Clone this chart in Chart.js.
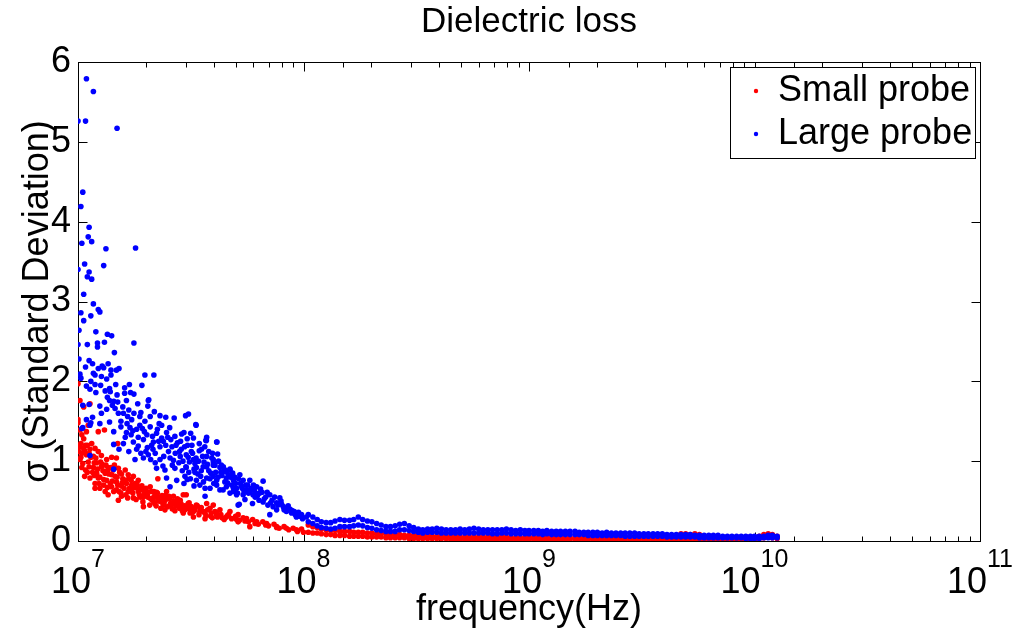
<!DOCTYPE html>
<html>
<head>
<meta charset="utf-8">
<title>Dielectric loss</title>
<script src="https://cdn.jsdelivr.net/npm/chart.js@4.4.0/dist/chart.umd.min.js"></script>
<style>
  html, body { margin: 0; padding: 0; background: #fff; }
  canvas { display: block; }
</style>
</head>
<body>
<canvas id="loss" width="1020" height="639"></canvas>
<script>
const chartTitle = 'Dielectric loss';
const xTitle = 'frequency(Hz)';
const yTitle = 'σ (Standard Deviation)';
const seriesNames = ['Small probe', 'Large probe'];
const xRange = [1e7, 1e11];
const yTicks = [0, 1, 2, 3, 4, 5, 6];

// scattered points below ~100 MHz, [frequency Hz, sigma]
const smallPts = [
  [1.00e7,1.97],[1.02e7,1.76],[1.13e7,1.72],[1.06e7,1.68],[1.00e7,1.52],[1.00e7,1.48],[1.11e7,1.45],
  [1.02e7,1.39],[1.09e7,1.37],[1.04e7,1.33],[1.23e7,1.37],[1.31e7,1.39],[1.50e7,1.22],[1.00e7,1.20],
  [1.02e7,1.18],[1.06e7,1.16],[1.13e7,1.15],[1.19e7,1.16],[1.23e7,1.12],[1.04e7,1.10],[1.09e7,1.08],
  [1.17e7,1.06],[1.27e7,1.07],[1.34e7,1.02],[1.41e7,1.05],[1.48e7,1.04],[1.11e7,0.99],[1.21e7,0.98],
  [1.27e7,0.93],[1.36e7,0.92],[1.17e7,0.92],[1.43e7,0.89],[1.51e7,0.91],[1.62e7,0.89],[1.32e7,0.85],
  [1.41e7,0.83],[1.56e7,0.84],[1.67e7,0.83],[1.76e7,0.81],[1.07e7,0.81],[1.13e7,0.79],[1.23e7,0.79],
  [1.34e7,0.76],[1.48e7,0.74],[1.62e7,0.76],[1.85e7,0.76],[1.19e7,0.72],[1.30e7,0.70],[1.41e7,0.68],
  [1.56e7,0.69],[1.73e7,0.70],[1.92e7,0.69],[2.09e7,0.68],[1.19e7,0.66],[1.25e7,0.66],[1.48e7,0.64],
  [1.67e7,0.62],[1.85e7,0.62],[2.02e7,0.62],[2.23e7,0.61],[2.47e7,0.62],[1.36e7,0.58],[1.56e7,0.56],
  [1.76e7,0.54],[1.95e7,0.55],[2.16e7,0.54],[2.39e7,0.54],[2.65e7,0.56],[2.93e7,0.58],[1.51e7,0.51],
  [1.95e7,0.43],[2.19e7,0.47],[2.39e7,0.45],[2.60e7,0.45],[2.78e7,0.47],[3.08e7,0.47],[2.43e7,0.39],
  [2.69e7,0.38],[2.98e7,0.39],[3.14e7,0.35],[2.26e7,0.51],[3.02e7,0.58],[2.84e7,0.51],[3.35e7,0.45],
  [3.72e7,0.47],[3.98e7,0.45],[3.14e7,0.39],[3.47e7,0.37],[3.85e7,0.41],[4.26e7,0.39],[4.72e7,0.37],
  [2.93e7,0.35],[3.25e7,0.30],[3.66e7,0.28],[4.12e7,0.33],[4.55e7,0.30],[5.13e7,0.33],[5.59e7,0.28],
  [5.13e7,0.24],[6.20e7,0.24],[6.86e7,0.22],[7.60e7,0.18],[8.40e7,0.16],[9.30e7,0.14],[5.78e7,0.18],
  [2.26e7,0.78],[1.01e7,1.12],[1.03e7,1.05],[1.03e7,1.22],[1.05e7,0.97],[1.07e7,1.13],[1.08e7,0.89],
  [1.10e7,1.20],[1.12e7,0.93],[1.14e7,1.05],[1.16e7,0.86],[1.18e7,0.98],[1.20e7,1.04],[1.22e7,0.90],
  [1.24e7,0.72],[1.26e7,0.99],[1.29e7,0.88],[1.30e7,0.77],[1.33e7,0.95],[1.35e7,0.67],[1.37e7,0.84],
  [1.40e7,0.92],[1.42e7,0.75],[1.44e7,0.62],[1.46e7,0.81],[1.50e7,0.70],[1.53e7,0.86],[1.55e7,0.60],
  [1.58e7,0.78],[1.60e7,0.66],[1.64e7,0.72],[1.66e7,0.54],[1.69e7,0.66],[1.72e7,0.76],[1.75e7,0.60],
  [1.78e7,0.67],[1.81e7,0.52],[1.83e7,0.70],[1.87e7,0.58],[1.90e7,0.64],[1.94e7,0.49],[1.97e7,0.59],
  [2.00e7,0.66],[2.04e7,0.55],[2.08e7,0.45],[2.11e7,0.62],[2.14e7,0.51],[2.18e7,0.56],[2.22e7,0.44],
  [2.25e7,0.60],[2.29e7,0.50],[2.33e7,0.41],[2.36e7,0.57],[2.41e7,0.48],[2.45e7,0.52],[2.50e7,0.43],
  [2.53e7,0.56],[2.57e7,0.47],[2.62e7,0.40],[2.66e7,0.50],[2.72e7,0.44],[2.76e7,0.53],[2.82e7,0.41],
  [2.86e7,0.47],[2.90e7,0.38],[2.96e7,0.44],[3.04e7,0.41],[3.11e7,0.48],[3.18e7,0.43],[3.22e7,0.36],
  [3.30e7,0.41],[3.38e7,0.44],[3.44e7,0.33],[3.52e7,0.42],[3.60e7,0.37],[3.70e7,0.32],[3.76e7,0.39],
  [3.90e7,0.35],[3.94e7,0.29],[4.05e7,0.37],[4.15e7,0.30],[4.30e7,0.33],[4.45e7,0.27],[4.60e7,0.32],
  [4.80e7,0.28],[5.00e7,0.31],[5.20e7,0.26],[5.40e7,0.29],[5.70e7,0.24],[5.95e7,0.27],[6.30e7,0.21],
  [6.60e7,0.24],[7.00e7,0.19],[7.40e7,0.21],[7.80e7,0.16],[8.20e7,0.18],[8.60e7,0.14],[9.00e7,0.16],
  [9.40e7,0.12],[9.80e7,0.15],[1.00e8,0.11],[1.02e7,1.02],[1.04e7,0.92],[1.06e7,1.28],[1.08e7,1.20],
  [1.10e7,0.86],[1.12e7,1.10],[1.15e7,1.22],[1.18e7,0.82],[1.21e7,0.85],[1.25e7,0.80],[1.28e7,0.96],
  [1.32e7,0.62],[1.35e7,0.88],[1.39e7,0.72],[1.45e7,0.95],[1.49e7,0.80],[1.52e7,0.62],[1.57e7,0.73],
  [1.63e7,0.58],[1.68e7,0.78],[1.73e7,0.63],[1.79e7,0.72],[1.84e7,0.66],[1.89e7,0.55],[1.96e7,0.64],
  [2.03e7,0.58],[2.10e7,0.53],[2.17e7,0.62],[2.28e7,0.55],[2.35e7,0.49],[2.44e7,0.57],[2.55e7,0.53],
  [2.68e7,0.47],[2.80e7,0.50],[2.92e7,0.42],[3.05e7,0.44],[3.28e7,0.38],[3.48e7,0.40],[3.65e7,0.35],
  [3.88e7,0.31],[4.10e7,0.36],[4.35e7,0.29],[4.65e7,0.33],[5.05e7,0.27],[5.50e7,0.25],[6.10e7,0.22],
  [6.80e7,0.20],[7.60e7,0.17]
];

const largePts = [
  [1.09e7,5.79],[1.17e7,5.63],[1.00e7,5.26],[1.08e7,5.26],[1.49e7,5.17],[1.05e7,4.37],[1.03e7,4.19],
  [1.12e7,3.93],[1.11e7,3.81],[1.15e7,3.75],[1.04e7,3.73],[1.33e7,3.66],[1.80e7,3.67],[1.07e7,3.47],
  [1.30e7,3.45],[1.00e7,3.40],[1.12e7,3.37],[1.10e7,3.31],[1.15e7,3.28],[1.06e7,3.09],[1.17e7,2.97],
  [1.03e7,2.86],[1.23e7,2.90],[1.25e7,2.87],[1.14e7,2.82],[1.06e7,2.76],[1.01e7,2.64],[1.20e7,2.62],
  [1.35e7,2.59],[1.41e7,2.57],[1.00e7,2.46],[1.10e7,2.46],[1.22e7,2.48],[1.22e7,2.43],[1.31e7,2.49],
  [1.77e7,2.48],[1.45e7,2.36],[1.01e7,2.28],[1.12e7,2.26],[1.16e7,2.22],[1.36e7,2.22],[1.23e7,2.16],
  [1.28e7,2.19],[1.30e7,2.17],[1.40e7,2.14],[1.48e7,2.14],[1.52e7,2.16],[1.02e7,2.09],[1.17e7,2.10],
  [1.19e7,2.08],[1.40e7,2.08],[1.98e7,2.08],[2.17e7,2.08],[1.03e7,2.04],[1.27e7,2.06],[1.34e7,2.03],
  [1.09e7,1.94],[1.13e7,1.90],[1.19e7,1.96],[1.47e7,1.96],[1.69e7,1.96],[1.92e7,1.95],[1.61e7,1.92],
  [1.38e7,1.91],[1.39e7,1.87],[1.61e7,1.85],[1.71e7,1.86],[1.77e7,1.84],[1.49e7,1.83],[1.35e7,1.80],
  [2.06e7,1.77],[1.05e7,1.70],[1.12e7,1.71],[1.25e7,1.69],[1.38e7,1.76],[1.44e7,1.75],[1.84e7,1.72],
  [2.05e7,1.76],[2.04e7,1.69],[1.34e7,1.65],[1.27e7,1.60],[1.46e7,1.66],[1.51e7,1.60],[1.59e7,1.60],
  [1.68e7,1.64],[1.77e7,1.60],[1.90e7,1.61],[1.66e7,1.56],[1.88e7,1.56],[2.09e7,1.56],[2.31e7,1.57],
  [2.67e7,1.54],[3.00e7,1.57],[3.09e7,1.59],[3.33e7,1.46],[3.71e7,1.26],[4.12e7,1.24],[1.38e7,1.49],
  [1.14e7,1.48],[1.05e7,1.42],[1.25e7,1.47],[1.55e7,1.43],[1.70e7,1.42],[1.88e7,1.45],[2.09e7,1.43],
  [2.29e7,1.47],[1.44e7,1.37],[1.64e7,1.36],[1.97e7,1.37],[2.23e7,1.35],[2.47e7,1.36],[2.69e7,1.31],
  [2.95e7,1.36],[1.44e7,1.21],[1.59e7,1.22],[1.76e7,1.24],[1.95e7,1.27],[2.16e7,1.24],[2.39e7,1.25],
  [3.25e7,1.29],[1.52e7,1.15],[1.68e7,1.12],[1.82e7,1.15],[2.03e7,1.17],[2.31e7,1.18],[2.61e7,1.18],
  [2.87e7,1.15],[3.18e7,1.12],[3.53e7,1.15],[1.79e7,1.02],[1.95e7,1.04],[2.10e7,1.02],[2.31e7,1.02],
  [2.56e7,1.04],[2.84e7,1.06],[3.02e7,1.08],[3.34e7,1.04],[3.72e7,1.06],[3.98e7,1.02],[1.44e7,0.90],
  [2.23e7,0.91],[2.43e7,0.89],[2.69e7,0.91],[3.01e7,0.93],[3.27e7,0.90],[3.59e7,0.93],[3.98e7,0.95],
  [4.41e7,0.93],[4.72e7,0.89],[2.47e7,0.79],[2.74e7,0.76],[3.05e7,0.77],[3.35e7,0.76],[3.72e7,0.79],
  [4.12e7,0.76],[4.55e7,0.79],[2.56e7,0.68],[2.95e7,0.72],[3.47e7,0.70],[3.85e7,0.66],[4.26e7,0.64],
  [4.89e7,0.66],[5.05e7,0.58],[3.66e7,0.56],[5.13e7,0.45],[3.34e7,1.45],[2.88e7,1.34],[3.16e7,1.35],
  [3.72e7,1.30],[3.69e7,1.26],[4.13e7,1.24],[3.06e7,1.20],[3.45e7,1.13],[4.16e7,1.09],[3.25e7,1.02],
  [3.57e7,1.06],[3.92e7,1.04],[3.98e7,0.99],[3.02e7,0.92],[3.35e7,0.92],[3.72e7,0.93],[4.26e7,0.92],
  [4.72e7,0.90],[4.41e7,0.87],[2.98e7,0.81],[3.50e7,0.81],[3.98e7,0.81],[5.22e7,0.83],[4.89e7,0.76],
  [5.40e7,0.76],[5.78e7,0.76],[6.62e7,0.75],[3.27e7,0.69],[3.66e7,0.66],[4.12e7,0.70],[4.55e7,0.68],
  [5.05e7,0.66],[5.59e7,0.64],[6.20e7,0.68],[4.72e7,0.60],[5.40e7,0.58],[5.97e7,0.58],[6.40e7,0.60],
  [7.09e7,0.58],[7.85e7,0.54],[5.19e7,0.46],[5.94e7,0.47],[6.62e7,0.49],[6.95e7,0.45],[7.33e7,0.43],
  [7.09e7,0.33],[7.60e7,0.39],[8.13e7,0.43],[8.40e7,0.37],[8.85e7,0.35],[9.30e7,0.30],[9.80e7,0.33],
  [1.03e8,0.30],[1.04e7,1.41],[1.13e7,1.45],[1.13e7,1.07],[1.16e7,1.55],[1.09e7,1.52],[1.62e7,1.30],
  [1.72e7,1.33],[1.85e7,1.19],[2.00e7,1.12],[2.14e7,1.31],[2.20e7,1.10],[2.35e7,1.29],[2.52e7,1.12],
  [2.58e7,1.27],[2.76e7,1.23],[2.80e7,0.98],[3.12e7,0.99],[3.40e7,0.84],[3.80e7,0.88],[4.00e7,0.72],
  [4.35e7,0.82],[4.60e7,0.73],[4.95e7,0.80],[5.30e7,0.69],[5.65e7,0.70],[6.05e7,0.64],[6.55e7,0.61],
  [6.80e7,0.55],[7.25e7,0.51],[7.60e7,0.48],[8.00e7,0.46],[8.30e7,0.41],[8.70e7,0.40],[9.10e7,0.37],
  [9.50e7,0.36],[2.20e7,0.98],[2.40e7,1.06],[1.90e7,1.10],[2.65e7,1.01],[3.10e7,0.86],[5.50e7,0.52],
  [6.10e7,0.55],[6.35e7,0.51],[5.80e7,0.62],[4.80e7,0.70],[1.55e7,1.50],[1.65e7,1.47],[1.75e7,1.38],
  [1.85e7,1.30],[1.93e7,1.41],[2.02e7,1.33],[2.12e7,1.20],[2.25e7,1.40],[2.45e7,1.20],[2.55e7,1.42],
  [2.70e7,1.10],[2.85e7,1.25],[2.92e7,1.00],[3.05e7,1.28],[3.20e7,1.20],[3.30e7,0.97],[3.45e7,1.22],
  [3.62e7,0.99],[3.80e7,1.12],[3.88e7,0.85],[4.05e7,0.95],[4.20e7,1.00],[4.30e7,0.86],[4.50e7,0.89],
  [4.65e7,0.82],[4.85e7,0.85],[5.00e7,0.72],[5.15e7,0.78],[5.35e7,0.66],[5.55e7,0.70],[5.70e7,0.60],
  [6.00e7,0.70],[6.25e7,0.57],[6.45e7,0.65],[6.70e7,0.53],[6.90e7,0.61],[7.15e7,0.48],[7.45e7,0.55],
  [7.70e7,0.45],[7.95e7,0.50],[8.20e7,0.39],[8.55e7,0.44],[8.90e7,0.38],[9.20e7,0.33],[9.60e7,0.31],
  [9.90e7,0.28],[3.15e7,0.78],[3.60e7,0.74],[4.40e7,0.64],[4.90e7,0.62],[2.05e7,1.08],[2.15e7,1.15],
  [2.28e7,1.25],[2.38e7,0.94],[2.50e7,1.30],[2.62e7,0.95],[2.72e7,1.20],[2.82e7,1.12],[2.90e7,0.88],
  [2.97e7,1.18],[3.08e7,1.05],[3.22e7,1.10],[3.30e7,0.86],[3.42e7,1.00],[3.52e7,0.88],[3.65e7,1.18],
  [3.75e7,0.96],[3.85e7,0.78],[3.95e7,1.10],[4.08e7,0.86],[4.18e7,0.80],[4.32e7,0.95],[4.48e7,0.74],
  [4.58e7,0.86],[4.75e7,0.80],[5.10e7,0.60],[5.25e7,0.72],[5.45e7,0.62],[5.85e7,0.66],[6.15e7,0.60],
  [1.08e7,2.18],[1.14e7,2.00],[1.20e7,1.86],[1.26e7,1.95],[1.32e7,1.88],[1.42e7,1.70],[1.50e7,1.74],
  [1.58e7,1.68],[1.64e7,1.76],[1.73e7,1.52],[1.82e7,1.40],[1.98e7,1.50],[2.18e7,1.62],[2.35e7,1.45],
  [2.45e7,1.55]
];

// dense band above 100 MHz: sweep frequencies and upper / lower edge of each cloud
const bandFreq = [
  1.05e8,1.10e8,1.15e8,1.20e8,1.26e8,1.32e8,1.38e8,1.45e8,1.52e8,1.60e8,1.67e8,1.75e8,
  1.83e8,1.92e8,2.01e8,2.11e8,2.21e8,2.32e8,2.43e8,2.55e8,2.67e8,2.80e8,2.94e8,3.08e8,
  3.23e8,3.38e8,3.55e8,3.72e8,3.90e8,4.09e8,4.29e8,4.50e8,4.72e8,4.95e8,5.19e8,5.44e8,
  5.70e8,5.98e8,6.27e8,6.57e8,6.89e8,7.23e8,7.58e8,7.94e8,8.33e8,8.73e8,9.15e8,9.59e8,
  1.00e9,1.05e9,1.10e9,1.15e9,1.20e9,1.26e9,1.32e9,1.38e9,1.45e9,1.52e9,1.60e9,1.67e9,
  1.75e9,1.83e9,1.92e9,2.01e9,2.11e9,2.21e9,2.32e9,2.43e9,2.55e9,2.67e9,2.80e9,2.94e9,
  3.08e9,3.23e9,3.38e9,3.55e9,3.72e9,3.90e9,4.09e9,4.29e9,4.50e9,4.72e9,4.95e9,5.19e9,
  5.44e9,5.70e9,5.98e9,6.27e9,6.57e9,6.89e9,7.23e9,7.58e9,7.94e9,8.33e9,8.73e9,9.15e9,
  9.59e9,1.00e10,1.05e10,1.10e10,1.15e10,1.20e10,1.26e10
];
const largeBandHi = [
  0.33,0.30,0.27,0.24,0.23,0.23,0.25,0.27,0.26,0.26,0.27,0.30,
  0.27,0.25,0.24,0.22,0.20,0.18,0.18,0.19,0.21,0.22,0.19,0.17,
  0.15,0.14,0.15,0.15,0.16,0.15,0.14,0.14,0.14,0.15,0.14,0.15,
  0.16,0.15,0.14,0.14,0.14,0.14,0.14,0.15,0.14,0.13,0.14,0.13,
  0.13,0.13,0.13,0.12,0.13,0.12,0.12,0.12,0.12,0.12,0.12,0.11,
  0.11,0.11,0.11,0.11,0.10,0.11,0.10,0.10,0.10,0.10,0.10,0.10,
  0.09,0.09,0.09,0.09,0.09,0.09,0.08,0.08,0.08,0.08,0.08,0.08,
  0.07,0.07,0.07,0.07,0.07,0.07,0.06,0.06,0.06,0.06,0.06,0.06,
  0.06,0.06,0.06,0.06,0.07,0.07,0.06
];
const largeBandLo = [
  0.24,0.22,0.19,0.17,0.16,0.15,0.16,0.18,0.18,0.18,0.19,0.20,
  0.19,0.17,0.16,0.14,0.13,0.12,0.12,0.12,0.14,0.14,0.13,0.12,
  0.11,0.10,0.11,0.11,0.11,0.10,0.10,0.10,0.10,0.10,0.10,0.10,
  0.10,0.10,0.10,0.10,0.09,0.09,0.10,0.10,0.09,0.09,0.09,0.09,
  0.09,0.09,0.09,0.08,0.09,0.08,0.08,0.08,0.08,0.08,0.08,0.08,
  0.08,0.07,0.07,0.07,0.07,0.07,0.07,0.07,0.07,0.06,0.06,0.06,
  0.06,0.06,0.06,0.06,0.06,0.06,0.05,0.05,0.05,0.05,0.05,0.05,
  0.05,0.04,0.04,0.04,0.04,0.04,0.04,0.04,0.04,0.04,0.04,0.03,
  0.03,0.03,0.03,0.04,0.04,0.04,0.04
];
const smallBandHi = [
  0.20,0.18,0.17,0.15,0.14,0.13,0.13,0.12,0.12,0.12,0.11,0.11,
  0.11,0.10,0.10,0.09,0.09,0.09,0.08,0.08,0.08,0.07,0.07,0.07,
  0.07,0.06,0.07,0.06,0.06,0.06,0.06,0.06,0.06,0.05,0.05,0.05,
  0.05,0.05,0.05,0.05,0.05,0.05,0.05,0.05,0.04,0.04,0.04,0.04,
  0.04,0.05,0.04,0.04,0.05,0.04,0.04,0.04,0.04,0.04,0.04,0.04,
  0.04,0.04,0.04,0.04,0.04,0.04,0.04,0.04,0.04,0.04,0.04,0.04,
  0.04,0.04,0.04,0.04,0.04,0.04,0.04,0.05,0.06,0.09,0.09,0.08,
  0.09,0.08,0.05,0.04,0.04,0.04,0.04,0.04,0.04,0.04,0.04,0.05,
  0.05,0.05,0.06,0.08,0.09,0.08,0.06
];
const smallBandLo = [
  0.11,0.10,0.10,0.09,0.08,0.08,0.07,0.07,0.07,0.06,0.06,0.06,
  0.06,0.05,0.05,0.05,0.05,0.04,0.04,0.04,0.04,0.04,0.03,0.03,
  0.03,0.03,0.03,0.03,0.03,0.03,0.03,0.02,0.02,0.02,0.02,0.02,
  0.02,0.02,0.02,0.02,0.02,0.02,0.02,0.02,0.02,0.02,0.02,0.02,
  0.02,0.02,0.02,0.02,0.02,0.02,0.02,0.02,0.02,0.02,0.02,0.02,
  0.02,0.02,0.02,0.02,0.02,0.02,0.02,0.02,0.02,0.02,0.02,0.02,
  0.02,0.02,0.02,0.02,0.02,0.02,0.02,0.02,0.02,0.02,0.02,0.02,
  0.02,0.02,0.02,0.02,0.02,0.02,0.02,0.02,0.02,0.02,0.02,0.02,
  0.02,0.02,0.03,0.04,0.05,0.04,0.03
];

const FONT = '"Liberation Sans", Arial, Helvetica, sans-serif';
Chart.defaults.font.family = FONT;
Chart.defaults.color = '#000';

function buildSeries(pts, hi, lo) {
  const out = pts.map(([f, s]) => ({ x: f, y: s }));
  bandFreq.forEach((f, i) => {
    out.push({ x: f, y: hi[i] });
    out.push({ x: f, y: lo[i] });
  });
  return out;
}

const isDecade = v => Math.abs(Math.log10(v) - Math.round(Math.log10(v))) < 1e-9;

// MATLAB style box with inward ticks, superscript decade labels and an inset legend
const matlabAxes = {
  id: 'matlabAxes',
  beforeDatasetsDraw(chart) {
    const { ctx, chartArea: a, scales: { x, y } } = chart;
    ctx.save();
    ctx.strokeStyle = '#000';
    ctx.lineWidth = 1;
    const L = Math.round(a.left) + 0.5, R = Math.round(a.right) + 0.5;
    const T = Math.round(a.top) + 0.5, B = Math.round(a.bottom) + 0.5;
    ctx.strokeRect(L, T, R - L, B - T);
    ctx.beginPath();
    x.ticks.forEach(t => {
      const px = Math.round(x.getPixelForValue(t.value)) + 0.5;
      const len = isDecade(t.value) ? 9 : 5;
      ctx.moveTo(px, B); ctx.lineTo(px, B - len);
      ctx.moveTo(px, T); ctx.lineTo(px, T + len);
    });
    y.ticks.forEach(t => {
      const py = Math.round(y.getPixelForValue(t.value)) + 0.5;
      ctx.moveTo(L, py); ctx.lineTo(L + 9, py);
      ctx.moveTo(R, py); ctx.lineTo(R - 9, py);
    });
    ctx.stroke();
    ctx.restore();
  },
  afterDraw(chart) {
    const { ctx, chartArea: a, scales: { x } } = chart;
    ctx.save();
    ctx.fillStyle = '#000';
    ctx.textBaseline = 'alphabetic';
    ctx.textAlign = 'left';
    x.ticks.forEach(t => {
      if (!isDecade(t.value)) return;
      const px = x.getPixelForValue(t.value);
      const exp = String(Math.round(Math.log10(t.value)));
      ctx.font = '36px ' + FONT;
      const w1 = ctx.measureText('10').width;
      ctx.font = '25px ' + FONT;
      const w2 = ctx.measureText(exp).width;
      const x0 = px - (w1 + w2) / 2;
      ctx.font = '36px ' + FONT;
      ctx.fillText('10', x0, a.bottom + 52);
      ctx.font = '25px ' + FONT;
      ctx.fillText(exp, x0 + w1, a.bottom + 26);
    });

    const w = 245, h = 91;
    const lx = Math.round(a.right) - 5 - w, ly = Math.round(a.top) + 5;
    ctx.fillStyle = '#fff';
    ctx.fillRect(lx, ly, w, h);
    ctx.strokeStyle = '#000';
    ctx.lineWidth = 1;
    ctx.strokeRect(lx + 0.5, ly + 0.5, w, h);
    ctx.textBaseline = 'middle';
    ctx.font = '36px ' + FONT;
    chart.data.datasets.forEach((ds, i) => {
      const cy = ly + 24 + i * 43;
      ctx.fillStyle = ds.backgroundColor;
      ctx.beginPath();
      ctx.arc(lx + 26, cy, 2.2, 0, Math.PI * 2);
      ctx.fill();
      ctx.fillStyle = '#000';
      ctx.fillText(ds.label, lx + 48, cy);
    });
    ctx.restore();
  }
};

new Chart(document.getElementById('loss').getContext('2d'), {
  type: 'scatter',
  data: {
    datasets: [
      {
        label: seriesNames[0],
        data: buildSeries(smallPts, smallBandHi, smallBandLo),
        backgroundColor: '#ff0000',
        pointRadius: 2.8,
        pointBorderWidth: 0,
        order: 1,
      },
      {
        label: seriesNames[1],
        data: buildSeries(largePts, largeBandHi, largeBandLo),
        backgroundColor: '#0000ff',
        pointRadius: 2.8,
        pointBorderWidth: 0,
        order: 0,
      },
    ],
  },
  options: {
    responsive: false,
    animation: false,
    devicePixelRatio: 1,
    layout: { padding: { left: 0, right: 40, top: 0, bottom: 0 } },
    plugins: {
      legend: { display: false },
      tooltip: { enabled: false },
      title: {
        display: true,
        text: chartTitle,
        fullSize: false,
        color: '#000',
        font: { size: 35, weight: 'normal' },
        padding: { top: 1, bottom: 19 },
      },
    },
    scales: {
      x: {
        type: 'logarithmic',
        min: xRange[0],
        max: xRange[1],
        grid: { display: false, drawTicks: false },
        border: { display: false },
        ticks: { display: false, autoSkip: false },
        title: { display: true, text: xTitle, font: { size: 36 }, padding: { top: 0, bottom: 7.4 } },
        afterFit: s => { s.height = 98; },
      },
      y: {
        min: yTicks[0],
        max: yTicks[yTicks.length - 1],
        grid: { display: false, drawTicks: false },
        border: { display: false },
        ticks: { stepSize: 1, font: { size: 36 }, padding: 7, color: '#000' },
        title: { display: true, text: yTitle, font: { size: 36 }, padding: { top: 16.4, bottom: 0 } },
        afterFit: s => { s.width = 78; },
      },
    },
  },
  plugins: [matlabAxes],
});
</script>
</body>
</html>
